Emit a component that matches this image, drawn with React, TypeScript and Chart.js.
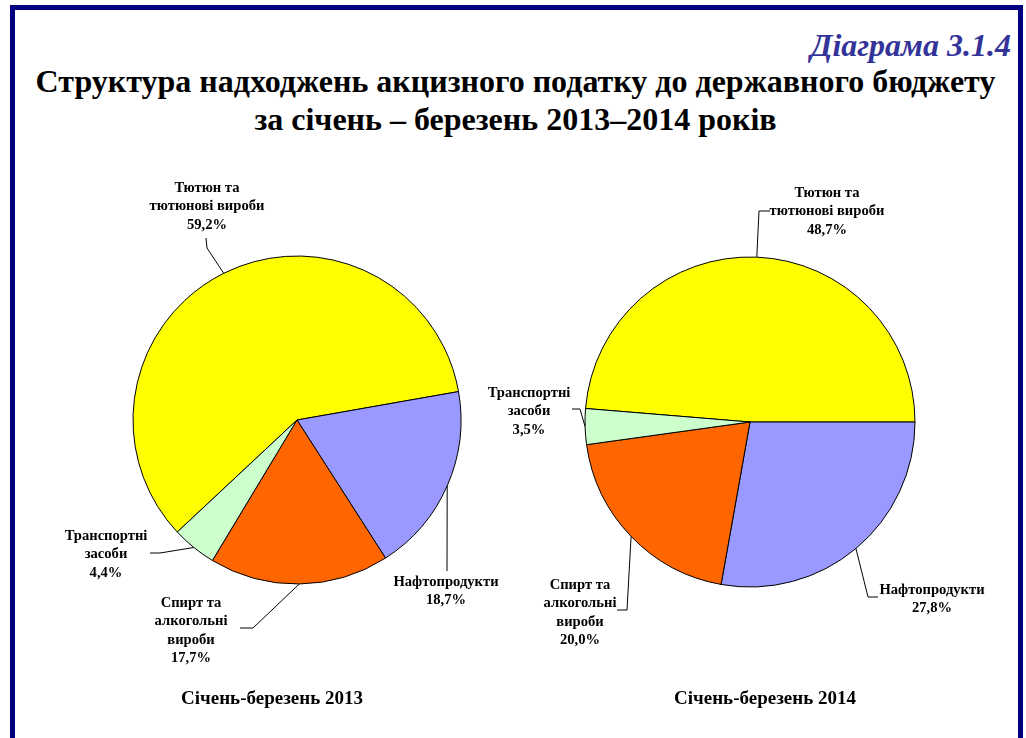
import React, { useEffect, useRef } from "react";
import { Chart, registerables } from "chart.js";

Chart.register(...registerables);

// ---- data ----
const categories: string[][] = [
  ["Тютюн та", "тютюнові вироби"],
  ["Нафтопродукти"],
  ["Спирт та", "алкогольні", "вироби"],
  ["Транспортні", "засоби"],
];
const values2013 = [59.2, 18.7, 17.7, 4.4];
const values2014 = [48.7, 27.8, 20.0, 3.5];
const sliceColors = ["#FFFF00", "#9999FF", "#FF6600", "#CCFFCC"];
const periodLabels = ["Січень-березень 2013", "Січень-березень 2014"];
const diagramNumber = "Діаграма 3.1.4";
const titleLines = [
  "Структура надходжень акцизного податку до державного бюджету",
  "за січень – березень 2013–2014 років",
];

// ---- layout (positions only) ----
const W = 1026;
const H = 738;
const pieLayouts = [
  { cx: 297, cy: 420, r: 164, rotation: 226.9 },
  { cx: 750, cy: 422, r: 165, rotation: 274.7 },
];
// per slice: text centre x, first line y, leader points after the arc anchor
const labelLayouts = [
  [
    { x: 207, y: 188, pts: [[207, 248], [206, 238]] },
    { x: 446, y: 582, pts: [[447, 571]] },
    { x: 191, y: 603, pts: [[253, 628], [240, 628]] },
    { x: 106, y: 536, pts: [[160, 553], [150, 553]] },
  ],
  [
    { x: 827, y: 193, pts: [[759, 211], [770, 211]] },
    { x: 932, y: 590, pts: [[868, 597], [878, 597]] },
    { x: 580, y: 585, pts: [[627, 610], [617, 610]] },
    { x: 529, y: 393, pts: [[580, 409], [572, 409]] },
  ],
];
const LABEL_FONT = "bold 14.6px 'Liberation Serif', 'Times New Roman', serif";
const LINE_H = 18.5;

function fmt(v: number) {
  return v.toFixed(1).replace(".", ",") + "%";
}

function makeLabelPlugin(idx: number, values: number[]) {
  return {
    id: "sliceLabels" + idx,
    afterDraw(chart: any) {
      const ctx = chart.ctx as CanvasRenderingContext2D;
      const meta = chart.getDatasetMeta(0);
      ctx.save();
      meta.data.forEach((arc: any, i: number) => {
        const p = arc.getProps(["x", "y", "startAngle", "endAngle", "outerRadius"], true);
        const mid = (p.startAngle + p.endAngle) / 2;
        const ax = p.x + Math.cos(mid) * p.outerRadius;
        const ay = p.y + Math.sin(mid) * p.outerRadius;
        const lay = labelLayouts[idx][i];
        ctx.beginPath();
        ctx.moveTo(ax, ay);
        lay.pts.forEach(([px, py]) => ctx.lineTo(px, py));
        ctx.strokeStyle = "#000000";
        ctx.lineWidth = 1;
        ctx.stroke();
        const lines = [...categories[i], fmt(values[i])];
        ctx.font = LABEL_FONT;
        ctx.fillStyle = "#000000";
        ctx.textAlign = "center";
        ctx.textBaseline = "middle";
        lines.forEach((t, k) => ctx.fillText(t, lay.x, lay.y + k * LINE_H));
      });
      ctx.restore();
    },
  };
}

function PieCanvas({ idx, values }: { idx: number; values: number[] }) {
  const ref = useRef<HTMLCanvasElement>(null);
  useEffect(() => {
    if (!ref.current) return;
    const L = pieLayouts[idx];
    const half = 200;
    const chart = new Chart(ref.current, {
      type: "pie",
      data: {
        labels: categories.map((c) => c.join(" ")),
        datasets: [
          {
            data: values,
            backgroundColor: sliceColors,
            borderColor: "#000000",
            borderWidth: 1,
            radius: L.r,
          } as any,
        ],
      },
      options: {
        animation: false,
        responsive: false,
        rotation: L.rotation,
        layout: {
          padding: {
            left: L.cx - half,
            right: W - L.cx - half,
            top: L.cy - half,
            bottom: H - L.cy - half,
          },
        },
        plugins: {
          legend: { display: false },
          tooltip: { enabled: false },
          title: { display: false },
        },
      },
      plugins: [makeLabelPlugin(idx, values)],
    });
    return () => chart.destroy();
  }, [idx, values]);
  return (
    <canvas
      ref={ref}
      width={W}
      height={H}
      style={{ position: "absolute", left: 0, top: 0, width: W, height: H }}
    />
  );
}

export default function App() {
  const serif = "'Liberation Serif', 'Times New Roman', serif";
  return (
    <div
      style={{
        position: "fixed",
        left: 0,
        top: 0,
        width: W,
        height: H,
        background: "#FFFFFF",
        overflow: "hidden",
        fontFamily: serif,
      }}
    >
      <div
        style={{
          position: "absolute",
          left: 10,
          top: 5,
          width: 1023 - 10,
          height: 800,
          border: "5px solid #000080",
          boxSizing: "border-box",
        }}
      />
      <div
        style={{
          position: "absolute",
          right: 15,
          top: 25,
          fontSize: 32,
          fontWeight: "bold",
          fontStyle: "italic",
          color: "#333399",
          lineHeight: "40px",
          whiteSpace: "nowrap",
        }}
      >
        {diagramNumber}
      </div>
      {titleLines.map((t, i) => (
        <div
          key={i}
          style={{
            position: "absolute",
            left: 0,
            width: 1031,
            top: 62 + i * 38,
            textAlign: "center",
            fontSize: 32,
            fontWeight: "bold",
            color: "#000000",
            lineHeight: "38px",
            whiteSpace: "nowrap",
          }}
        >
          {t}
        </div>
      ))}
      <PieCanvas idx={0} values={values2013} />
      <PieCanvas idx={1} values={values2014} />
      {periodLabels.map((t, i) => (
        <div
          key={t}
          style={{
            position: "absolute",
            left: (i === 0 ? 272 : 765) - 150,
            width: 300,
            top: 686,
            textAlign: "center",
            fontSize: 19,
            fontWeight: "bold",
            color: "#000000",
            lineHeight: "24px",
            whiteSpace: "nowrap",
          }}
        >
          {t}
        </div>
      ))}
    </div>
  );
}
